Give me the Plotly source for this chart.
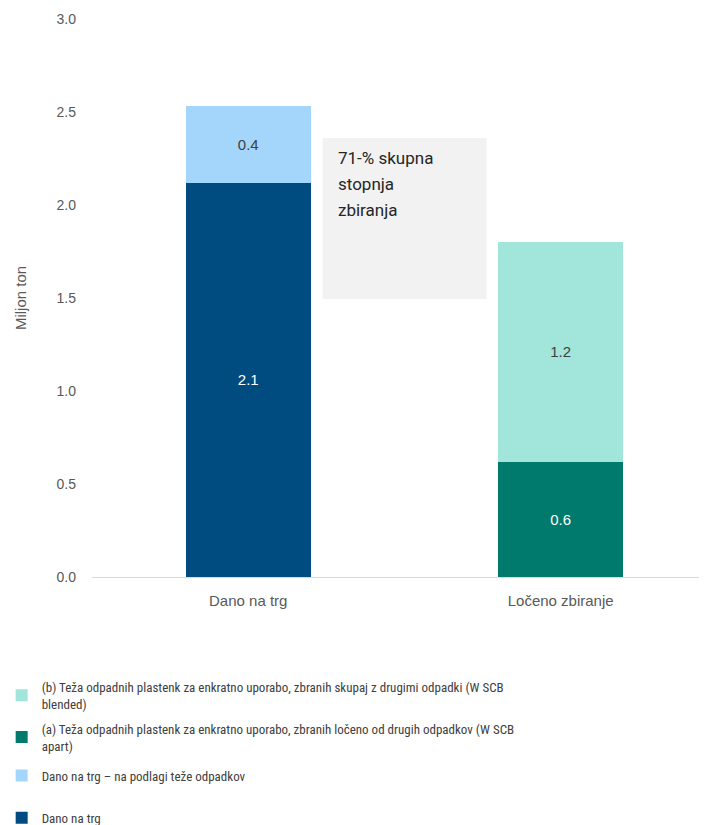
import plotly.graph_objects as go

categories = ["Dano na trg", "Ločeno zbiranje"]
placed = [2.12, None]
placed_waste = [0.41, None]
sep_a = [None, 0.62]
sep_b = [None, 1.18]
names = [
    "Dano na trg",
    "Dano na trg – na podlagi teže odpadkov",
    "(a) Teža odpadnih plastenk za enkratno uporabo, zbranih ločeno od drugih odpadkov (W SCB<br>apart)",
    "(b) Teža odpadnih plastenk za enkratno uporabo, zbranih skupaj z drugimi odpadki (W SCB<br>blended)",
]
colors = ["#004B80", "#A3D6FA", "#007A6C", "#A1E5DB"]
text_colors = ["white", "#404040", "white", "#404040"]
series = [placed, placed_waste, sep_a, sep_b]
legends = ["legend2", "legend3", "legend", "legend"]
ranks = [4, 3, 2, 1]
yticks = [0, 0.5, 1.0, 1.5, 2.0, 2.5, 3.0]
note_lines = ["71-% skupna", "stopnja", "zbiranja"]

fig = go.Figure()
for i, (name, vals, col, tc, lg, rk) in enumerate(zip(names, series, colors, text_colors, legends, ranks)):
    fig.add_trace(go.Bar(
        x=categories, y=vals, name=name, marker=dict(color=col, line=dict(width=0)),
        width=0.4, texttemplate="%{y:.1f}", textposition="inside",
        insidetextanchor="middle", textangle=0,
        textfont=dict(color=tc, size=15, family="Liberation Sans, Arial, sans-serif"),
        legend=lg, legendgroup="g%d" % i, legendrank=rk,
    ))

fig.add_shape(type="rect", x0=0.238, x1=0.763, y0=1.495, y1=2.36,
              xref="x", yref="y", fillcolor="#F2F2F2", line=dict(width=0), layer="below")
for k, line in enumerate(note_lines):
    fig.add_annotation(x=0.28, y=2.255 - k * 0.14, xref="x", yref="y", xanchor="left",
                       yanchor="middle", text=line, showarrow=False, align="left",
                       font=dict(size=17, color="#262626", family="Roboto, Liberation Sans, sans-serif"))

legend_font = dict(size=13, color="#404040",
                   family="Liberation Sans Narrow, Roboto Condensed, Arial Narrow, sans-serif")
legend_common = dict(orientation="v", x=-0.145, xanchor="left", yanchor="top",
                     font=legend_font, itemwidth=30, bgcolor="rgba(0,0,0,0)")

fig.update_layout(
    width=707, height=825, barmode="stack",
    margin=dict(l=84, r=0, t=11, b=256, autoexpand=False),
    paper_bgcolor="white", plot_bgcolor="white",
    font=dict(family="Liberation Sans, Arial, sans-serif", color="#595959"),
    xaxis=dict(range=[-0.5, 1.494], showgrid=False, showline=True, linecolor="#D9D9D9",
               linewidth=1, ticks="", automargin=False, ticklabelstandoff=10,
               tickfont=dict(size=15, color="#595959")),
    yaxis=dict(range=[0, 3.0], tickvals=yticks, tickformat=".1f", showgrid=False,
               zeroline=False, showline=False, ticks="", ticklen=0, automargin=False,
               ticklabelstandoff=15,
               tickfont=dict(size=14, color="#595959"),
               title=dict(text="Miljon ton", font=dict(size=15, color="#595959"), standoff=26)),
    legend=dict(y=-0.170, traceorder="grouped", tracegroupgap=5, **legend_common),
    legend3=dict(y=-0.329, **legend_common),
    legend2=dict(y=-0.4045, **legend_common),
    showlegend=True,
)
fig.write_html("out.html")
